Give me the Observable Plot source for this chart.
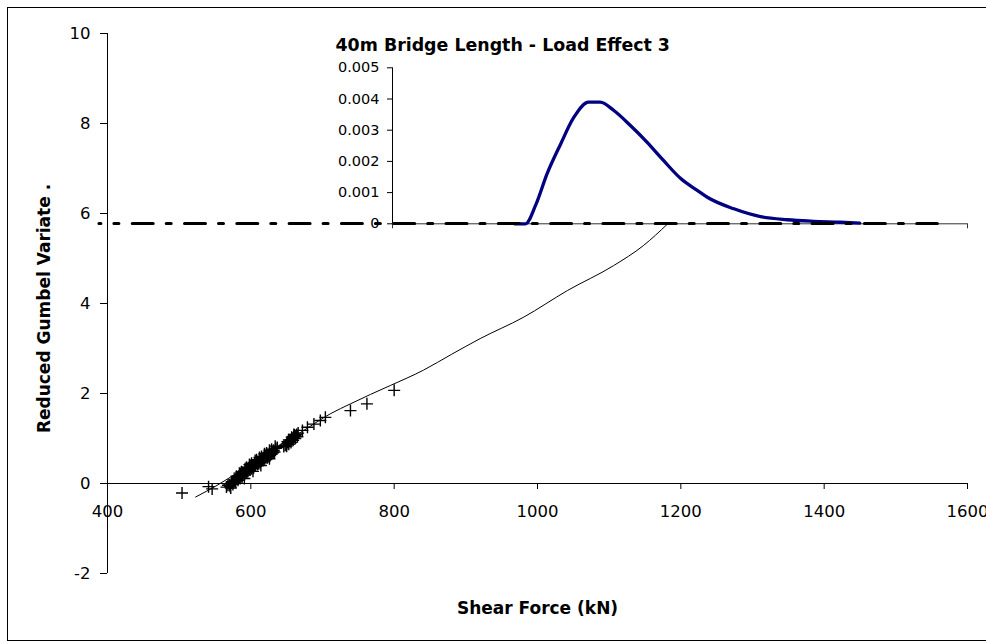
<!DOCTYPE html>
<html><head><meta charset="utf-8">
<script src="https://cdn.jsdelivr.net/npm/d3@7"></script>
<script src="https://cdn.jsdelivr.net/npm/@observablehq/plot@0.6"></script>
<style>
html,body{margin:0;padding:0;background:#fff;overflow:hidden;}
#wrap{position:relative;width:986px;height:644px;overflow:hidden;background:#fff;}
#wrap svg{position:absolute;left:0;top:0;}
#border{position:absolute;left:7px;top:7px;width:1000px;height:634px;border:1px solid #000;box-sizing:border-box;}
</style></head><body>
<div id="wrap"><div id="border"></div></div>
<script>
// ---- tick values / labels ----
const mainXTicks = [400, 600, 800, 1000, 1200, 1400, 1600];
const mainXTickLabels = ["400", "600", "800", "1000", "1200", "1400", "1600"];
const mainYTicks = [-2, 0, 2, 4, 6, 8, 10];
const mainYTickLabels = ["-2", "0", "2", "4", "6", "8", "10"];
const insetYTicks = [0, 0.001, 0.002, 0.003, 0.004, 0.005];
const insetYTickLabels = ["0", "0.001", "0.002", "0.003", "0.004", "0.005"];
const insetXTicks = [800, 1600];

// ---- text ----
const mainXLabel = "Shear Force (kN)";
const mainYLabel = "Reduced Gumbel Variate .";
const insetTitle = "40m Bridge Length - Load Effect 3";

// ---- observed points (Gumbel plot) ----
const obsForce = [504, 541, 546, 566, 568, 570, 571, 573, 574, 576, 577, 578, 580, 581, 583, 584, 586, 587, 589, 590,
  592, 593, 595, 597, 598, 600, 602, 603, 605, 607, 608, 610, 612, 614, 616, 618, 620, 622, 624, 626,
  628, 630, 632, 635, 646, 648, 650, 652, 654, 656, 658, 660, 662, 664, 666, 672, 679, 688, 697, 704,
  739, 762, 800,
  572, 575, 579, 582, 585, 588, 591, 594, 596, 599, 601, 604, 606, 609, 611, 613, 615, 617, 619, 621,
  623, 625, 627, 629, 631, 633, 637, 580, 587, 594, 601, 608, 615, 622, 629, 650, 653, 656, 659, 662,
  665, 657, 661, 653,
  584, 592, 598, 606, 612, 619, 626, 634, 591, 603, 614, 626, 651, 660];
const obsVariate = [-0.21, -0.07, -0.12, -0.08, -0.04, -0.03, -0.06, 0.01, 0.04, 0.02, 0.08, 0.06, 0.12, 0.10, 0.16, 0.14, 0.20, 0.18, 0.24, 0.22,
  0.27, 0.30, 0.32, 0.35, 0.33, 0.38, 0.41, 0.39, 0.44, 0.46, 0.49, 0.47, 0.52, 0.55, 0.54, 0.58, 0.61, 0.60, 0.64, 0.67,
  0.66, 0.71, 0.74, 0.78, 0.82, 0.85, 0.88, 0.91, 0.94, 0.97, 1.00, 1.03, 1.06, 1.09, 1.12, 1.18, 1.25, 1.32, 1.40, 1.47,
  1.62, 1.77, 2.07,
  -0.10, -0.02, 0.03, 0.07, 0.11, 0.15, 0.19, 0.24, 0.27, 0.30, 0.33, 0.35, 0.39, 0.42, 0.44, 0.47, 0.50, 0.51, 0.55, 0.57,
  0.57, 0.60, 0.62, 0.65, 0.68, 0.70, 0.80, 0.16, 0.26, 0.36, 0.45, 0.53, 0.60, 0.68, 0.76, 0.83, 0.87, 0.91, 0.96, 1.00,
  1.04, 1.03, 1.08, 0.97,
  0.23, 0.33, 0.42, 0.51, 0.58, 0.66, 0.74, 0.83, 0.11, 0.27, 0.40, 0.55, 0.93, 1.09];

// ---- fitted line ----
const fitForce = [523, 553, 590, 630, 674, 711, 739, 767, 795, 841, 880, 920, 980, 1042, 1106, 1148, 1181];
const fitVariate = [-0.30, -0.04, 0.33, 0.75, 1.18, 1.55, 1.77, 1.98, 2.18, 2.52, 2.87, 3.22, 3.69, 4.29, 4.84, 5.29, 5.76];

// ---- threshold dash-dot line ----
const thresholdForce = [388, 1558];
const thresholdVariate = [5.78, 5.78];

// ---- inset probability density ----
const pdfForce = [970, 985, 999, 1015, 1034, 1052, 1073, 1089, 1108, 1131, 1154, 1177, 1201, 1224, 1238, 1275, 1312, 1349, 1386, 1423, 1450];
const pdfDensity = [0, 0, 0.00059, 0.0016, 0.00256, 0.0034, 0.0039, 0.0039, 0.00363, 0.00315, 0.00262, 0.00203, 0.00145, 0.00107, 0.00085, 0.00048, 0.00023, 0.00013, 0.00008, 0.00005, 0.00002];

const obs = obsForce.map((x, i) => ({x, y: obsVariate[i]}));
const fit = fitForce.map((x, i) => ({x, y: fitVariate[i]}));
const threshold = thresholdForce.map((x, i) => ({x, y: thresholdVariate[i]}));
const pdf = pdfForce.map((x, i) => ({x, y: pdfDensity[i]}));

const thinPlus = {
  draw(context, size) {
    const r = Math.sqrt(size / Math.PI);
    context.moveTo(-r, 0); context.lineTo(r, 0);
    context.moveTo(0, -r); context.lineTo(0, r);
  }
};

const W = 986, H = 644;
const baseStyle = {background: "transparent", fontFamily: "DejaVu Sans", fontSize: "16px", color: "#000", overflow: "visible"};

// ---- inset chart ----
const inset = Plot.plot({
  width: W, height: H,
  marginLeft: 392, marginRight: 19, marginTop: 67.3, marginBottom: H - 223.3,
  x: {domain: [800, 1600], axis: null},
  y: {domain: [0, 0.005], axis: null},
  style: baseStyle,
  marks: [
    Plot.axisY(insetYTicks, {anchor: "left", tickSize: 5, tickPadding: 8, fontSize: 14.5, label: null,
      tickFormat: d => insetYTickLabels[insetYTicks.indexOf(d)]}),
    Plot.ruleX([800], {stroke: "#000"}),
    Plot.ruleY([0], {stroke: "#333"}),
    Plot.ruleX(insetXTicks, {x: d => d, y1: 0, y2: 0, insetBottom: -5, stroke: "#333"}),
    Plot.line(pdf, {x: "x", y: "y", stroke: "#000080", strokeWidth: 3.3, strokeLinejoin: "round", curve: "monotone-x"}),
    Plot.text([insetTitle], {frameAnchor: "top-left", dx: -57, dy: -22, textAnchor: "start", lineAnchor: "middle",
      fontWeight: "bold", fontSize: 17.4})
  ]
});

// ---- main chart ----
const main = Plot.plot({
  width: W, height: H,
  marginLeft: 107, marginRight: 19, marginTop: 33, marginBottom: 71,
  x: {domain: [400, 1600], axis: null},
  y: {domain: [-2, 10], axis: null},
  style: baseStyle,
  marks: [
    Plot.axisY(mainYTicks, {anchor: "left", tickSize: 7, tickPadding: 10, fontSize: 16.5, label: null,
      tickFormat: d => mainYTickLabels[mainYTicks.indexOf(d)]}),
    Plot.ruleX([400], {stroke: "#000"}),
    Plot.ruleY([0], {stroke: "#000"}),
    Plot.ruleX(mainXTicks, {x: d => d, y1: 0, y2: 0, insetBottom: -6, stroke: "#000"}),
    Plot.text(mainXTicks, {x: d => d, y: 0, dy: 28, lineAnchor: "middle", fontSize: 16.5,
      text: (d, i) => mainXTickLabels[i]}),
    Plot.line(fit, {x: "x", y: "y", stroke: "#000", strokeWidth: 1, curve: "monotone-x"}),
    Plot.dot(obs, {x: "x", y: "y", symbol: thinPlus, r: 6, stroke: "#000", fill: "none", strokeWidth: 1.4}),
    Plot.line(threshold, {x: "x", y: "y", stroke: "#000", strokeWidth: 3, strokeDasharray: "21,13,5,13.3", strokeDashoffset: 19}),
    Plot.text([mainYLabel], {frameAnchor: "left", dx: -63, dy: 5, rotate: -90, textAnchor: "middle", lineAnchor: "middle",
      fontWeight: "bold", fontSize: 17}),
    Plot.text([mainXLabel], {frameAnchor: "bottom", dy: 35, lineAnchor: "middle", fontWeight: "bold", fontSize: 17})
  ]
});

const wrap = document.getElementById("wrap");
wrap.appendChild(inset);
wrap.appendChild(main);
</script>
</body></html>
